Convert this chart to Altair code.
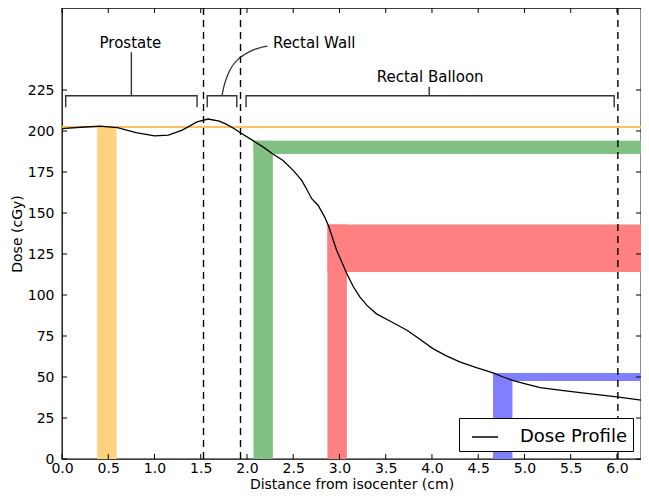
import altair as alt
import pandas as pd

# ---- data ----
curve_x = [0.0, 0.2, 0.41, 0.6, 0.8, 1.0, 1.15, 1.3, 1.46, 1.58, 1.7, 1.78, 1.86, 1.92,
           2.07, 2.18, 2.28, 2.39, 2.50, 2.59, 2.65, 2.70, 2.77, 2.84, 2.88, 2.97, 3.08,
           3.15, 3.22, 3.30, 3.40, 3.55, 3.73, 3.87, 4.01, 4.15, 4.30, 4.48, 4.66, 4.77,
           4.87, 5.0, 5.17, 5.4, 5.67, 6.0, 6.26]
curve_y = [201.5, 202.3, 203.0, 202.0, 199.0, 197.0, 197.5, 200.5, 205.5, 207.3, 206.0,
           204.0, 201.5, 199.2, 194.0, 190.0, 186.0, 182.0, 176.0, 170.0, 164.0, 158.7,
           154.6, 147.5, 142.4, 127.2, 113.0, 105.0, 98.8, 93.5, 88.5, 84.0, 78.5, 73.0,
           67.3, 63.0, 59.2, 55.7, 52.5, 50.0, 48.0, 46.0, 43.5, 41.8, 40.0, 37.9, 35.9]

x_ticks = [0.0, 0.5, 1.0, 1.5, 2.0, 2.5, 3.0, 3.5, 4.0, 4.5, 5.0, 5.5, 6.0]
y_ticks = [0, 25, 50, 75, 100, 125, 150, 175, 200, 225]
X_MAX = 6.26
Y_MAX = 275

dashed_x = [1.53, 1.93, 6.01]
orange_line_y = [202.5]

# vertical bars: left, right, top
bar_x0 = [0.38, 2.07, 2.87, 4.66]
bar_x1 = [0.59, 2.28, 3.08, 4.87]
bar_top = [202.5, 194.0, 143.0, 52.5]
# horizontal bands (orange has none): bottom, top
band_y0 = [None, 186.0, 114.0, 47.5]
band_y1 = [None, 194.0, 143.0, 52.5]
band_colors = ["#FFD280", "#80C080", "#FF8080", "#8080FF"]

# braces
brace_x0 = [0.04, 1.57, 1.99]
brace_x1 = [1.46, 1.89, 5.97]
brace_top = 221.5
brace_bottom = 214.5
prostate_tick_x = [0.75, 0.75]
prostate_tick_y = [221.5, 248.0]
balloon_tick_x = [3.97, 3.97]
balloon_tick_y = [221.5, 227.0]
wall_arc_x = [1.73, 1.75, 1.79, 1.84, 1.90, 1.97, 2.07, 2.22]
wall_arc_y = [221.5, 227.0, 234.0, 239.5, 243.5, 246.5, 249.5, 251.8]

labels_center = ["Prostate", "Rectal Balloon"]
labels_center_x = [0.74, 3.98]
labels_center_y = [253.4, 233.0]
labels_left = ["Rectal Wall"]
labels_left_x = [2.28]
labels_left_y = [253.4]

# ---- build tables ----
rects = []
for i in range(4):
    rects.append({"x": bar_x0[i], "x1": bar_x1[i], "y": 0, "y1": bar_top[i], "c": band_colors[i]})
    if band_y0[i] is not None:
        rects.append({"x": bar_x0[i], "x1": X_MAX, "y": band_y0[i], "y1": band_y1[i], "c": band_colors[i]})
rect_df = pd.DataFrame(rects)

brace_rows = []
for i in range(3):
    pts = [(brace_x0[i], brace_bottom), (brace_x0[i], brace_top),
           (brace_x1[i], brace_top), (brace_x1[i], brace_bottom)]
    for o, (px, py) in enumerate(pts):
        brace_rows.append({"id": f"b{i}", "o": o, "x": px, "y": py})
for name, xs_, ys_ in [("pt", prostate_tick_x, prostate_tick_y),
                       ("bt", balloon_tick_x, balloon_tick_y)]:
    for o, (px, py) in enumerate(zip(xs_, ys_)):
        brace_rows.append({"id": name, "o": o, "x": px, "y": py})
brace_df = pd.DataFrame(brace_rows)
arc_df = pd.DataFrame({"x": wall_arc_x, "y": wall_arc_y})

curve_df = pd.DataFrame({"x": curve_x, "y": curve_y, "series": "Dose Profile"})

W, H = 579, 451
xs = alt.Scale(domain=[0, X_MAX], nice=False, zero=False)
ys = alt.Scale(domain=[0, Y_MAX], nice=False, zero=False)

x_axis = alt.Axis(values=x_ticks, format=".1f", title="Distance from isocenter (cm)",
                  ticks=False, grid=False, domain=False, labelPadding=2,
                  labelFontSize=14, titleFontSize=14, titleFontWeight="normal",
                  titlePadding=2, labelColor="black", titleColor="black", labelFlush=False)
y_axis = alt.Axis(values=y_ticks, title="Dose (cGy)", ticks=False, grid=False,
                  domain=False, labelPadding=8, labelFontSize=14, titleFontSize=14,
                  titleFontWeight="normal", titlePadding=3, labelColor="black",
                  titleColor="black", labelFlush=False)


def X(field="x"):
    return alt.X(f"{field}:Q", scale=xs, axis=x_axis)


def Y(field="y"):
    return alt.Y(f"{field}:Q", scale=ys, axis=y_axis)


rect_layer = alt.Chart(rect_df).mark_rect().encode(
    x=X("x"), x2="x1:Q", y=Y("y"), y2="y1:Q",
    color=alt.Color("c:N", scale=None),
)

orange_line = alt.Chart(pd.DataFrame({"y": orange_line_y})).mark_rule(
    color="#FFC15C", strokeWidth=2).encode(y=Y("y"))

dashed = alt.Chart(pd.DataFrame({"x": dashed_x})).mark_rule(
    color="black", strokeWidth=1.4, strokeDash=[7, 5]).encode(x=X("x"))

braces = alt.Chart(brace_df).mark_line(color="#333333", strokeWidth=1.4).encode(
    x=X("x"), y=Y("y"), detail="id:N", order="o:Q",
)
arc = alt.Chart(arc_df).mark_line(color="#333333", strokeWidth=1.3,
                                  interpolate="monotone").encode(x=X("x"), y=Y("y"))

curve = alt.Chart(curve_df).mark_line(strokeWidth=1.3).encode(
    x=X("x"), y=Y("y"),
    stroke=alt.Stroke("series:N",
                      scale=alt.Scale(domain=["Dose Profile"], range=["black"]),
                      legend=alt.Legend(title=None, orient="bottom-right", offset=8,
                                        symbolType="stroke", symbolSize=676,
                                        symbolStrokeWidth=1.5, symbolStrokeColor="black",
                                        labelFontSize=18, labelColor="black",
                                        labelOffset=21, symbolOffset=7, padding=5,
                                        strokeColor="black", fillColor="white",
                                        cornerRadius=0)),
)

txt_c = alt.Chart(pd.DataFrame({"t": labels_center, "x": labels_center_x, "y": labels_center_y})
                  ).mark_text(fontSize=15, align="center", baseline="middle", color="black").encode(
    x=X("x"), y=Y("y"), text="t:N")
txt_l = alt.Chart(pd.DataFrame({"t": labels_left, "x": labels_left_x, "y": labels_left_y})
                  ).mark_text(fontSize=15, align="left", baseline="middle", color="black").encode(
    x=X("x"), y=Y("y"), text="t:N")

xt_df = pd.DataFrame({"x": x_ticks})
yt_df = pd.DataFrame({"y": y_ticks})
tk = dict(color="black", strokeWidth=1)
xt_bottom = alt.Chart(xt_df).mark_rule(**tk).encode(
    x=X("x"), y=alt.value(H), y2=alt.value(H - 5))
xt_top = alt.Chart(xt_df).mark_rule(**tk).encode(
    x=X("x"), y=alt.value(0), y2=alt.value(5))
yt_left = alt.Chart(yt_df).mark_rule(**tk).encode(
    y=Y("y"), x=alt.value(0), x2=alt.value(5))
yt_right = alt.Chart(yt_df).mark_rule(**tk).encode(
    y=Y("y"), x=alt.value(W), x2=alt.value(W - 5))

chart = alt.layer(
    rect_layer, orange_line, dashed, braces, arc, curve, txt_c, txt_l,
    xt_bottom, xt_top, yt_left, yt_right,
).properties(
    width=W, height=H,
    padding={"left": 54, "top": 0, "right": 0, "bottom": 33},
    autosize=alt.AutoSizeParams(type="none"),
).configure(font="DejaVu Sans").configure_view(stroke="black", strokeWidth=1.3)

chart.save("out.html", embed_options={"renderer": "svg", "actions": False})
